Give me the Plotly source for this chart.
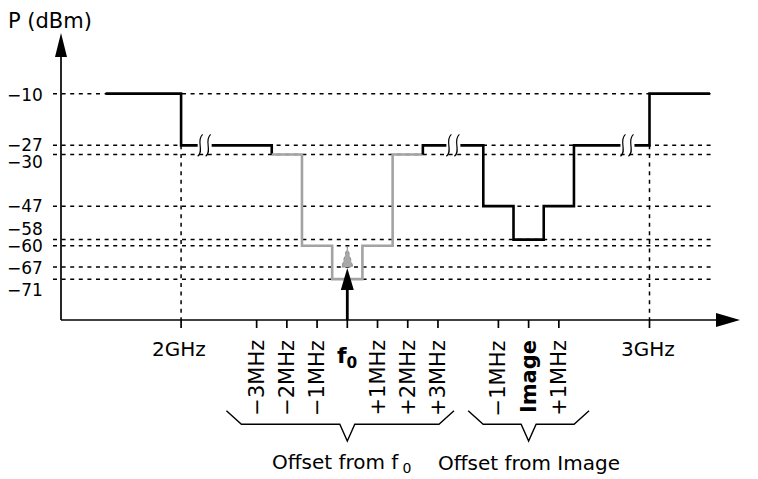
import plotly.graph_objects as go

# ---------------- data ----------------
levels = [-10, -27, -30, -47, -58, -60, -67, -71]
level_labels = ["−10", "−27", "−30", "−47", "−58", "−60", "−67", "−71"]

tick_pos = [-5.5, -3, -2, -1, 0, 1, 2, 3, 5, 6, 7, 10]
tick_labels = ["2GHz", "−3MHz", "−2MHz", "−1MHz", "f<sub>0</sub>",
               "+1MHz", "+2MHz", "+3MHz", "−1MHz", "Image", "+1MHz", "3GHz"]

# out-of-band mask (black) and in-band mask around f0 (grey)
left_x = [-8, -5.5, -2.5]
left_y = [-10, -27, -30]
inband_x = [-2.5, -1.5, -0.5, 0.5, 1.5, 2.5]
inband_y = [-30, -60, -71, -60, -30, -30]
right_x = [2.5, 2.5, 4.5, 5.5, 6.5, 7.5, 10, 12]
right_y = [-30, -27, -47, -58, -47, -27, -10, -10]

break_x = [-4.72, 3.51, 9.27]
break_level = -27
carrier_x = 0
carrier_level = -67

group_names = ["Offset from f\u2009<sub>0</sub>", "Offset from Image"]
group_span = [(-4, 0, 3.53), (4, 6, 8)]

# ---------------- canvas geometry ----------------
W, H = 758, 479
UNIT = 30.22          # px per MHz step
X0 = 347.3            # px of f0
DBPX = 3.041          # px per dB
Y_REF_PX, Y_REF_DB = 203.875, -46.25


def xu(p):
    return (p - X0) / UNIT


def ydb(p):
    return Y_REF_DB - (p - Y_REF_PX) / DBPX


x_org = xu(61)
y_floor = ydb(320)
FONT = "DejaVu Sans"

fig = go.Figure()
fig.add_trace(go.Scatter(x=left_x, y=left_y, mode="lines", line_shape="hv",
                         line=dict(color="black", width=2.6), hoverinfo="skip"))
fig.add_trace(go.Scatter(x=inband_x, y=inband_y, mode="lines", line_shape="hv",
                         line=dict(color="#a3a3a3", width=2.6), hoverinfo="skip"))
fig.add_trace(go.Scatter(x=right_x, y=right_y, mode="lines", line_shape="hv",
                         line=dict(color="black", width=2.6), hoverinfo="skip"))

shapes = []
dot = dict(color="black", width=1.5, dash="4px,4.6px")
# horizontal reference levels
for lv in levels:
    shapes.append(dict(type="line", xref="x", yref="y", x0=xu(53), x1=xu(712),
                       y0=lv, y1=lv, line=dot, layer="below"))
# band edges
for xe in (tick_pos[0], tick_pos[-1]):
    shapes.append(dict(type="line", xref="x", yref="y", x0=xe, x1=xe,
                       y0=levels[1], y1=y_floor, line=dot, layer="below"))

axis_line = dict(color="black", width=1.7)
shapes.append(dict(type="line", x0=x_org, x1=xu(718), y0=y_floor, y1=y_floor, line=axis_line))
shapes.append(dict(type="line", x0=x_org, x1=x_org, y0=y_floor, y1=ydb(56), line=axis_line))
# arrow heads of the axes
shapes.append(dict(type="path", xsizemode="pixel", ysizemode="pixel",
                   xanchor=xu(740), yanchor=y_floor,
                   path="M 0 0 L -24 7 L -24 -7 Z", fillcolor="black", line=dict(width=0)))
shapes.append(dict(type="path", xsizemode="pixel", ysizemode="pixel",
                   xanchor=x_org, yanchor=ydb(33),
                   path="M 0 0 L -6 -24 L 6 -24 Z", fillcolor="black", line=dict(width=0)))
# x ticks
for xt in tick_pos:
    shapes.append(dict(type="line", x0=xt, x1=xt, y0=y_floor, y1=ydb(328), line=axis_line))

# carrier arrow at f0
shapes.append(dict(type="line", x0=carrier_x, x1=carrier_x, y0=y_floor,
                   y1=carrier_level - 22 / DBPX, line=dict(color="black", width=2.8)))
shapes.append(dict(type="path", xsizemode="pixel", ysizemode="pixel",
                   xanchor=carrier_x, yanchor=carrier_level,
                   path="M 0 -1 L -6.5 -23 L 6.5 -23 Z", fillcolor="black", line=dict(width=0)))
shapes.append(dict(type="path", xsizemode="pixel", ysizemode="pixel",
                   xanchor=carrier_x, yanchor=carrier_level,
                   path="M -5.5 0 L 5.5 0 L 0 20 Z", fillcolor="#a8a8a8",
                   line=dict(color="#8c8c8c", width=1, dash="dot")))

# axis breaks on the shelf
for bx in break_x:
    shapes.append(dict(type="rect", xsizemode="pixel", ysizemode="pixel",
                       xanchor=bx, yanchor=break_level, x0=-7, x1=7, y0=-4, y1=4,
                       fillcolor="white", line=dict(width=0)))
    for off in (-4, 4):
        shapes.append(dict(type="path", xsizemode="pixel", ysizemode="pixel",
                           xanchor=bx, yanchor=break_level,
                           path=f"M {off-3} -11 C {off+4} -6, {off-5} 5, {off+2} 11",
                           line=dict(color="black", width=1.2)))

# braces under the tick labels
ytop, ymid, ybot = ydb(410.7), ydb(424.2), ydb(441)
for (xl, xt, xr) in group_span:
    pts = [(xl, ytop), (xl + 15 / UNIT, ymid), (xt - 7.5 / UNIT, ymid), (xt, ybot),
           (xt + 7.5 / UNIT, ymid), (xr - 15 / UNIT, ymid), (xr, ytop)]
    path = "M " + " L ".join(f"{px:.4f},{py:.4f}" for px, py in pts)
    shapes.append(dict(type="path", path=path, line=dict(color="black", width=1.4)))

annotations = []
nudge = {-10: -1, -27: 0, -30: -8, -58: 11, -71: -11, -67: -1}
for lv, lab in zip(levels, level_labels):
    annotations.append(dict(x=x_org, y=lv, xref="x", yref="y", text=lab, showarrow=False,
                            xanchor="right", yanchor="middle", xshift=-17,
                            yshift=nudge.get(lv, 0), borderpad=0,
                            font=dict(family=FONT, size=17, color="black")))

annotations.append(dict(x=xu(7), y=ydb(21), text="P (dBm)", showarrow=False,
                        xanchor="left", yanchor="middle", borderpad=0,
                        font=dict(family=FONT, size=21, color="black")))

for xt, lab in zip(tick_pos, tick_labels):
    if lab.endswith("GHz"):
        annotations.append(dict(x=xt, y=ydb(349), text=lab, showarrow=False,
                                xanchor="center", yanchor="middle", xshift=-2, borderpad=0,
                                font=dict(family=FONT, size=20, color="black")))
    elif lab.startswith("f"):
        annotations.append(dict(x=xt, y=ydb(342), text="<b>" + lab + "</b>", showarrow=False,
                                xanchor="center", yanchor="top", borderpad=0,
                                font=dict(family=FONT, size=22, color="black")))
    else:
        txt = "<b>" + lab + "</b>" if lab == "Image" else lab
        annotations.append(dict(x=xt, y=ydb(339), text=txt, showarrow=False, textangle=-90,
                                xanchor="center", yanchor="top", borderpad=0,
                                font=dict(family=FONT, size=21, color="black")))

for name, (xl, xt, xr) in zip(group_names, group_span):
    annotations.append(dict(x=xt, y=ydb(463), text=name, showarrow=False,
                            xanchor="center", yanchor="middle", borderpad=0,
                            xshift=0 if "Image" in name else -6,
                            font=dict(family=FONT, size=20, color="black")))

fig.update_layout(
    width=W, height=H, margin=dict(l=0, r=0, t=0, b=0, pad=0),
    paper_bgcolor="white", plot_bgcolor="white", showlegend=False,
    xaxis=dict(range=[xu(0), xu(W)], visible=False, fixedrange=True),
    yaxis=dict(range=[ydb(H), ydb(0)], visible=False, fixedrange=True),
    shapes=shapes, annotations=annotations,
)
fig.write_html("out.html")
